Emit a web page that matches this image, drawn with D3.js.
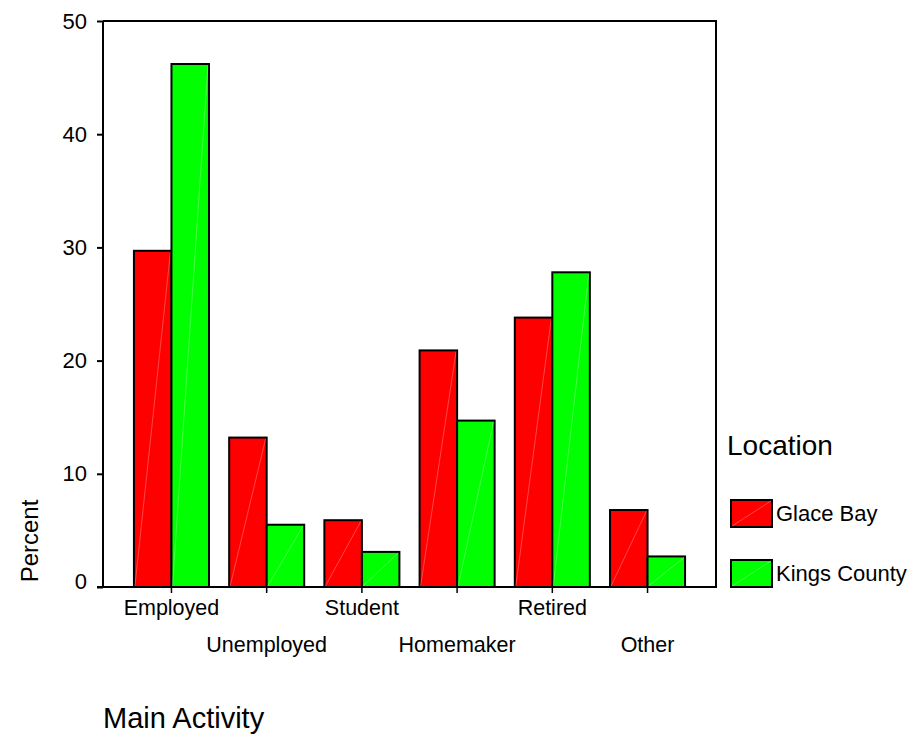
<!DOCTYPE html>
<html>
<head>
<meta charset="utf-8">
<script src="https://cdn.jsdelivr.net/npm/d3@7"></script>
<style>
  body { margin: 0; background: #fff; }
  text { font-family: "Liberation Sans", Arial, sans-serif; fill: #000; }
</style>
</head>
<body>
<div id="chart"></div>
<script>
// data
var categories = ["Employed", "Unemployed", "Student", "Homemaker", "Retired", "Other"];
var seriesNames = ["Glace Bay", "Kings County"];
var glaceBay = [29.7, 13.2, 5.9, 20.9, 23.8, 6.8];
var kingsCounty = [46.2, 5.5, 3.1, 14.7, 27.8, 2.7];
var yTicks = [0, 10, 20, 30, 40, 50];
var colors = ["#ff0000", "#00ff00"];

var width = 914, height = 738;
var plot = {left: 103, right: 716, top: 21, bottom: 587};

var svg = d3.select("#chart")
  .append("svg")
    .attr("width", width)
    .attr("height", height);

var x = d3.scaleBand()
  .domain(categories)
  .range([plot.left, plot.right])
  .paddingInner(0.212)
  .paddingOuter(0.325);

var xSub = d3.scaleBand()
  .domain(seriesNames)
  .range([0, x.bandwidth()]);

var y = d3.scaleLinear()
  .domain([0, 50])
  .range([plot.bottom, plot.top]);

var rows = [];
categories.forEach(function(c, i) {
  rows.push({cat: c, s: seriesNames[0], v: glaceBay[i], col: colors[0]});
  rows.push({cat: c, s: seriesNames[1], v: kingsCounty[i], col: colors[1]});
});

// bars
var bars = svg.append("g").selectAll("g")
  .data(rows)
  .enter().append("g");

bars.append("rect")
  .attr("x", function(d) { return x(d.cat) + xSub(d.s); })
  .attr("y", function(d) { return y(d.v); })
  .attr("width", xSub.bandwidth())
  .attr("height", function(d) { return y(0) - y(d.v); })
  .attr("fill", function(d) { return d.col; })
  .attr("stroke", "#000")
  .attr("stroke-width", 2);

// faint diagonal seen in each bar
bars.append("line")
  .attr("x1", function(d) { return x(d.cat) + xSub(d.s) + 1; })
  .attr("y1", y(0) - 1)
  .attr("x2", function(d) { return x(d.cat) + xSub(d.s) + xSub.bandwidth() - 1; })
  .attr("y2", function(d) { return y(d.v) + 1; })
  .attr("stroke", "#fff")
  .attr("stroke-opacity", 0.35)
  .attr("stroke-width", 0.8);

// frame: top and right
svg.append("line")
  .attr("x1", plot.left).attr("y1", plot.top)
  .attr("x2", plot.right).attr("y2", plot.top)
  .attr("stroke", "#000").attr("stroke-width", 2);
svg.append("line")
  .attr("x1", plot.right).attr("y1", plot.top - 1)
  .attr("x2", plot.right).attr("y2", plot.bottom + 1)
  .attr("stroke", "#000").attr("stroke-width", 2);

// y axis
var axisY = svg.append("g")
  .attr("transform", "translate(" + plot.left + ",0)")
  .call(d3.axisLeft(y).tickValues(yTicks).tickSize(6).tickPadding(10).tickFormat(d3.format("d")));
axisY.select(".domain").attr("stroke-width", 2).attr("d", "M0," + plot.bottom + "V" + plot.top);
axisY.selectAll(".tick line").attr("stroke-width", 2);
axisY.selectAll(".tick text")
  .attr("font-size", 22)
  .attr("font-family", "Liberation Sans, Arial, sans-serif")
  .attr("y", function(d) { return d === 0 ? -6 : 0; });

// x axis, ticks between the two bars of each group
var axisX = svg.append("g")
  .attr("transform", "translate(0," + plot.bottom + ")")
  .call(d3.axisBottom(x).tickSize(6).tickSizeOuter(0).tickFormat(""));
axisX.select(".domain").attr("stroke-width", 2)
  .attr("d", "M" + (plot.left - 6) + ",0H" + plot.right);
axisX.selectAll(".tick line").attr("stroke-width", 1.5);

// staggered category labels
svg.append("g").selectAll("text")
  .data(categories)
  .enter().append("text")
  .attr("x", function(d) { return x(d) + x.bandwidth() / 2; })
  .attr("y", function(d, i) { return i % 2 === 0 ? 615 : 652; })
  .attr("text-anchor", "middle")
  .attr("font-size", 21.5)
  .text(function(d) { return d; });

// axis titles
svg.append("text")
  .attr("transform", "translate(38,541) rotate(-90)")
  .attr("text-anchor", "middle")
  .attr("font-size", 24)
  .text("Percent");

svg.append("text")
  .attr("x", 103)
  .attr("y", 728)
  .attr("font-size", 29)
  .text("Main Activity");

// legend
var legend = svg.append("g");
legend.append("text")
  .attr("x", 727)
  .attr("y", 455)
  .attr("font-size", 28)
  .text("Location");

var items = legend.selectAll("g.item")
  .data(seriesNames)
  .enter().append("g")
  .attr("class", "item")
  .attr("transform", function(d, i) { return "translate(731," + (500 + i * 60) + ")"; });

items.append("rect")
  .attr("width", 41)
  .attr("height", 27)
  .attr("fill", function(d, i) { return colors[i]; })
  .attr("stroke", "#000")
  .attr("stroke-width", 2);
items.append("line")
  .attr("x1", 1).attr("y1", 26).attr("x2", 40).attr("y2", 1)
  .attr("stroke", "#fff").attr("stroke-opacity", 0.35).attr("stroke-width", 0.8);
items.append("text")
  .attr("x", 45)
  .attr("y", 21)
  .attr("font-size", 22)
  .text(function(d) { return d; });
</script>
</body>
</html>
